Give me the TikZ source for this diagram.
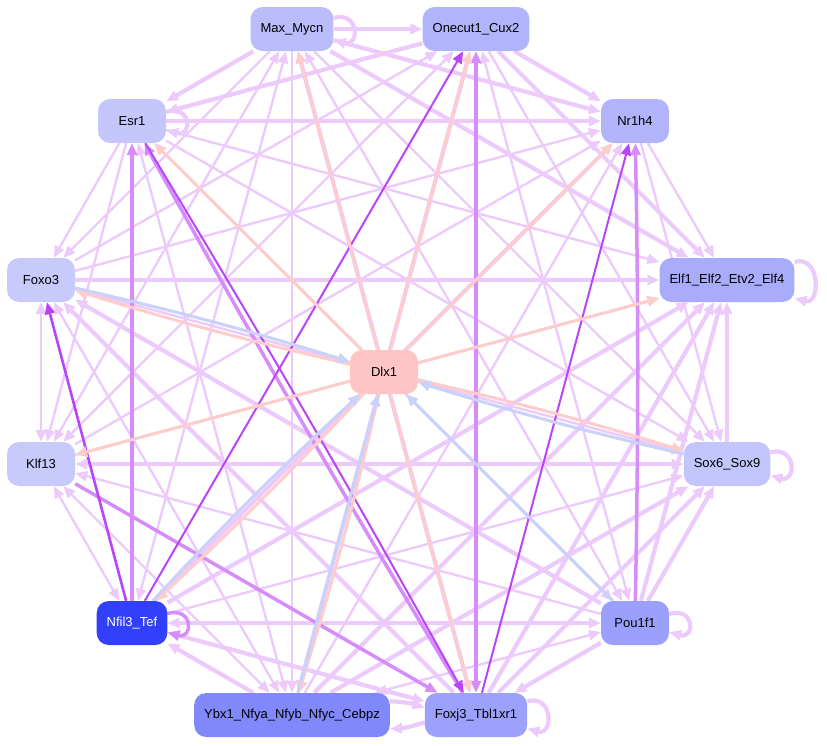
\documentclass[tikz,border=0pt]{standalone}
\usepackage{fontspec}
\setmainfont{Liberation Sans}
\usetikzlibrary{arrows.meta,backgrounds}

\definecolor{lpurple}{RGB}{236,202,252}
\definecolor{mpurple}{RGB}{214,140,250}
\definecolor{dpurple}{RGB}{186,68,248}
\definecolor{redge}{RGB}{255,204,204}
\definecolor{bedge}{RGB}{200,210,250}

\begin{document}
\begin{tikzpicture}[x=1pt,y=-1pt,
  tf/.style={rounded corners=12pt,minimum width=68pt,minimum height=44pt,inner xsep=10pt,font=\fontsize{13}{15}\selectfont},
  tip/.style={-{Triangle[length=12pt,width=10pt]}},
  both/.style={{Triangle[length=12pt,width=10pt]}-{Triangle[length=12pt,width=10pt]}},
  wk/.style={draw=lpurple,fill=lpurple,line width=2.4pt,tip},
  st/.style={draw=lpurple,fill=lpurple,line width=4.2pt,tip},
  mp/.style={draw=mpurple,fill=mpurple,line width=3.5pt,tip},
  dp/.style={draw=dpurple,fill=dpurple,line width=2pt,tip},
  rp/.style={draw=redge,fill=redge,line width=3pt,tip},
  bp/.style={draw=bedge,fill=bedge,line width=3pt,tip},
  selfloop/.style={loop,out=15,in=-15,min distance=27pt}]
	  \useasboundingbox (0,0) rectangle (827,745);

	  \node[tf,fill={rgb,255:red,187;green,189;blue,251}] (mm) at (292,29)  {Max\_Mycn};
	  \node[tf,fill={rgb,255:red,176;green,180;blue,251}] (oc) at (476,29)  {Onecut1\_Cux2};
	  \node[tf,fill={rgb,255:red,196;green,198;blue,252}] (es) at (132,121) {Esr1};
	  \node[tf,fill={rgb,255:red,177;green,180;blue,251}] (nr) at (635,121) {Nr1h4};
	  \node[tf,fill={rgb,255:red,200;green,202;blue,252}] (fo) at (41,280)  {Foxo3};
	  \node[tf,fill={rgb,255:red,169;green,171;blue,251}] (el) at (727,280) {Elf1\_Elf2\_Etv2\_Elf4};
	  \node[tf,fill={rgb,255:red,255;green,196;blue,196}] (dl) at (384,372) {Dlx1};
	  \node[tf,fill={rgb,255:red,200;green,202;blue,252}] (kl) at (41,464)  {Klf13};
	  \node[tf,fill={rgb,255:red,195;green,198;blue,252}] (sx) at (727,464) {Sox6\_Sox9};
	  \node[tf,fill={rgb,255:red,51;green,64;blue,251},text=white] (nf) at (132,623) {Nfil3\_Tef};
	  \node[tf,fill={rgb,255:red,154;green,160;blue,251}] (po) at (635,623) {Pou1f1};
	  \node[tf,fill={rgb,255:red,128;green,136;blue,251}] (yb) at (292,715) {Ybx1\_Nfya\_Nfyb\_Nfyc\_Cebpz};
	  \node[tf,fill={rgb,255:red,156;green,162;blue,251}] (fj) at (476,715) {Foxj3\_Tbl1xr1};

	  \begin{scope}[on background layer]
	  % weak links
	  \path[wk]
(mm) edge (fo)
(mm) edge [both] (kl)
(mm) edge (sx)
(mm) edge [both] (nf)
(mm) edge [both] (po)
(mm) edge (yb)
(fo) edge (oc)
(oc) edge [both] (kl)
(oc) edge (sx)
(oc) edge [both] (po)
(es) edge (fo)
(es) edge (el)
(es) edge (kl)
(es) edge (sx)
(es) edge [both] (po)
(es) edge [both] (yb)
(fo) edge (nr)
(nr) edge (el)
(kl) edge (nr)
(nr) edge (sx)
(yb) edge (nr)
(fo) edge [both] (kl)
(fo) edge (sx)
(fo) edge [both] (yb)
(kl) edge (el)
(kl) edge [both] (nf)
(po) edge (kl)
(kl) edge [both] (yb)
(nf) edge (sx)
(po) edge [both] (yb)
;
	  % strong links
	  \path[st]
(mm) edge (oc)
(mm) edge (es)
(mm) edge (nr)
(mm) edge (el)
(mm) edge [both] (fj)
(oc) edge (es)
(oc) edge (nr)
(oc) edge (el)
(oc) edge [both] (yb)
(es) edge (nr)
(nf) edge (nr)
(fo) edge (el)
(po) edge (fo)
(fj) edge (fo)
(sx) edge (el)
(nf) edge (el)
(po) edge (el)
(yb) edge (el)
(fj) edge (el)
(kl) edge [both] (sx)
(po) edge (sx)
(yb) edge (sx)
(fj) edge (sx)
(nf) edge [both] (po)
(yb) edge (nf)
(nf) edge [both] (fj)
(po) edge (fj)
(yb) edge [bend left=8] (fj)
(fj) edge [bend left=8] (yb)
(mm) edge [selfloop] (mm)
(es) edge [selfloop] (es)
(el) edge [selfloop] (el)
(sx) edge [selfloop] (sx)
(po) edge [selfloop] (po)
(fj) edge [selfloop] (fj)
;
	  \path[mp]
(nf) edge (es)
(fj) edge [bend left=1] (es)
(oc) edge [both] (fj)
(po) edge [bend right=1] (nr)
(kl) edge (fj)
(nf) edge [selfloop] (nf)
;
	  \path[dp]
(nf) edge (oc)
(es) edge [bend left=1] (fj)
(fj) edge (nr)
(nf) edge [line width=2.6pt] (fo)
;
	  % links of Dlx1
	  \path[rp]
(dl) edge (mm)
(dl) edge (oc)
(dl) edge (nr)
(dl) edge (es)
(dl) edge [bend left=2] (fo)
(dl) edge (el)
(dl) edge (kl)
(dl) edge [bend left=2] (sx)
(dl) edge [bend left=2] (nf)
(dl) edge [bend left=2] (yb)
(dl) edge (fj)
;
	  \path[bp]
(fo) edge [bend left=2] (dl)
(sx) edge [bend left=2] (dl)
(po) edge (dl)
(nf) edge [bend left=2] (dl)
(yb) edge (dl)
;
	  \end{scope}
	\end{tikzpicture}
\end{document}
